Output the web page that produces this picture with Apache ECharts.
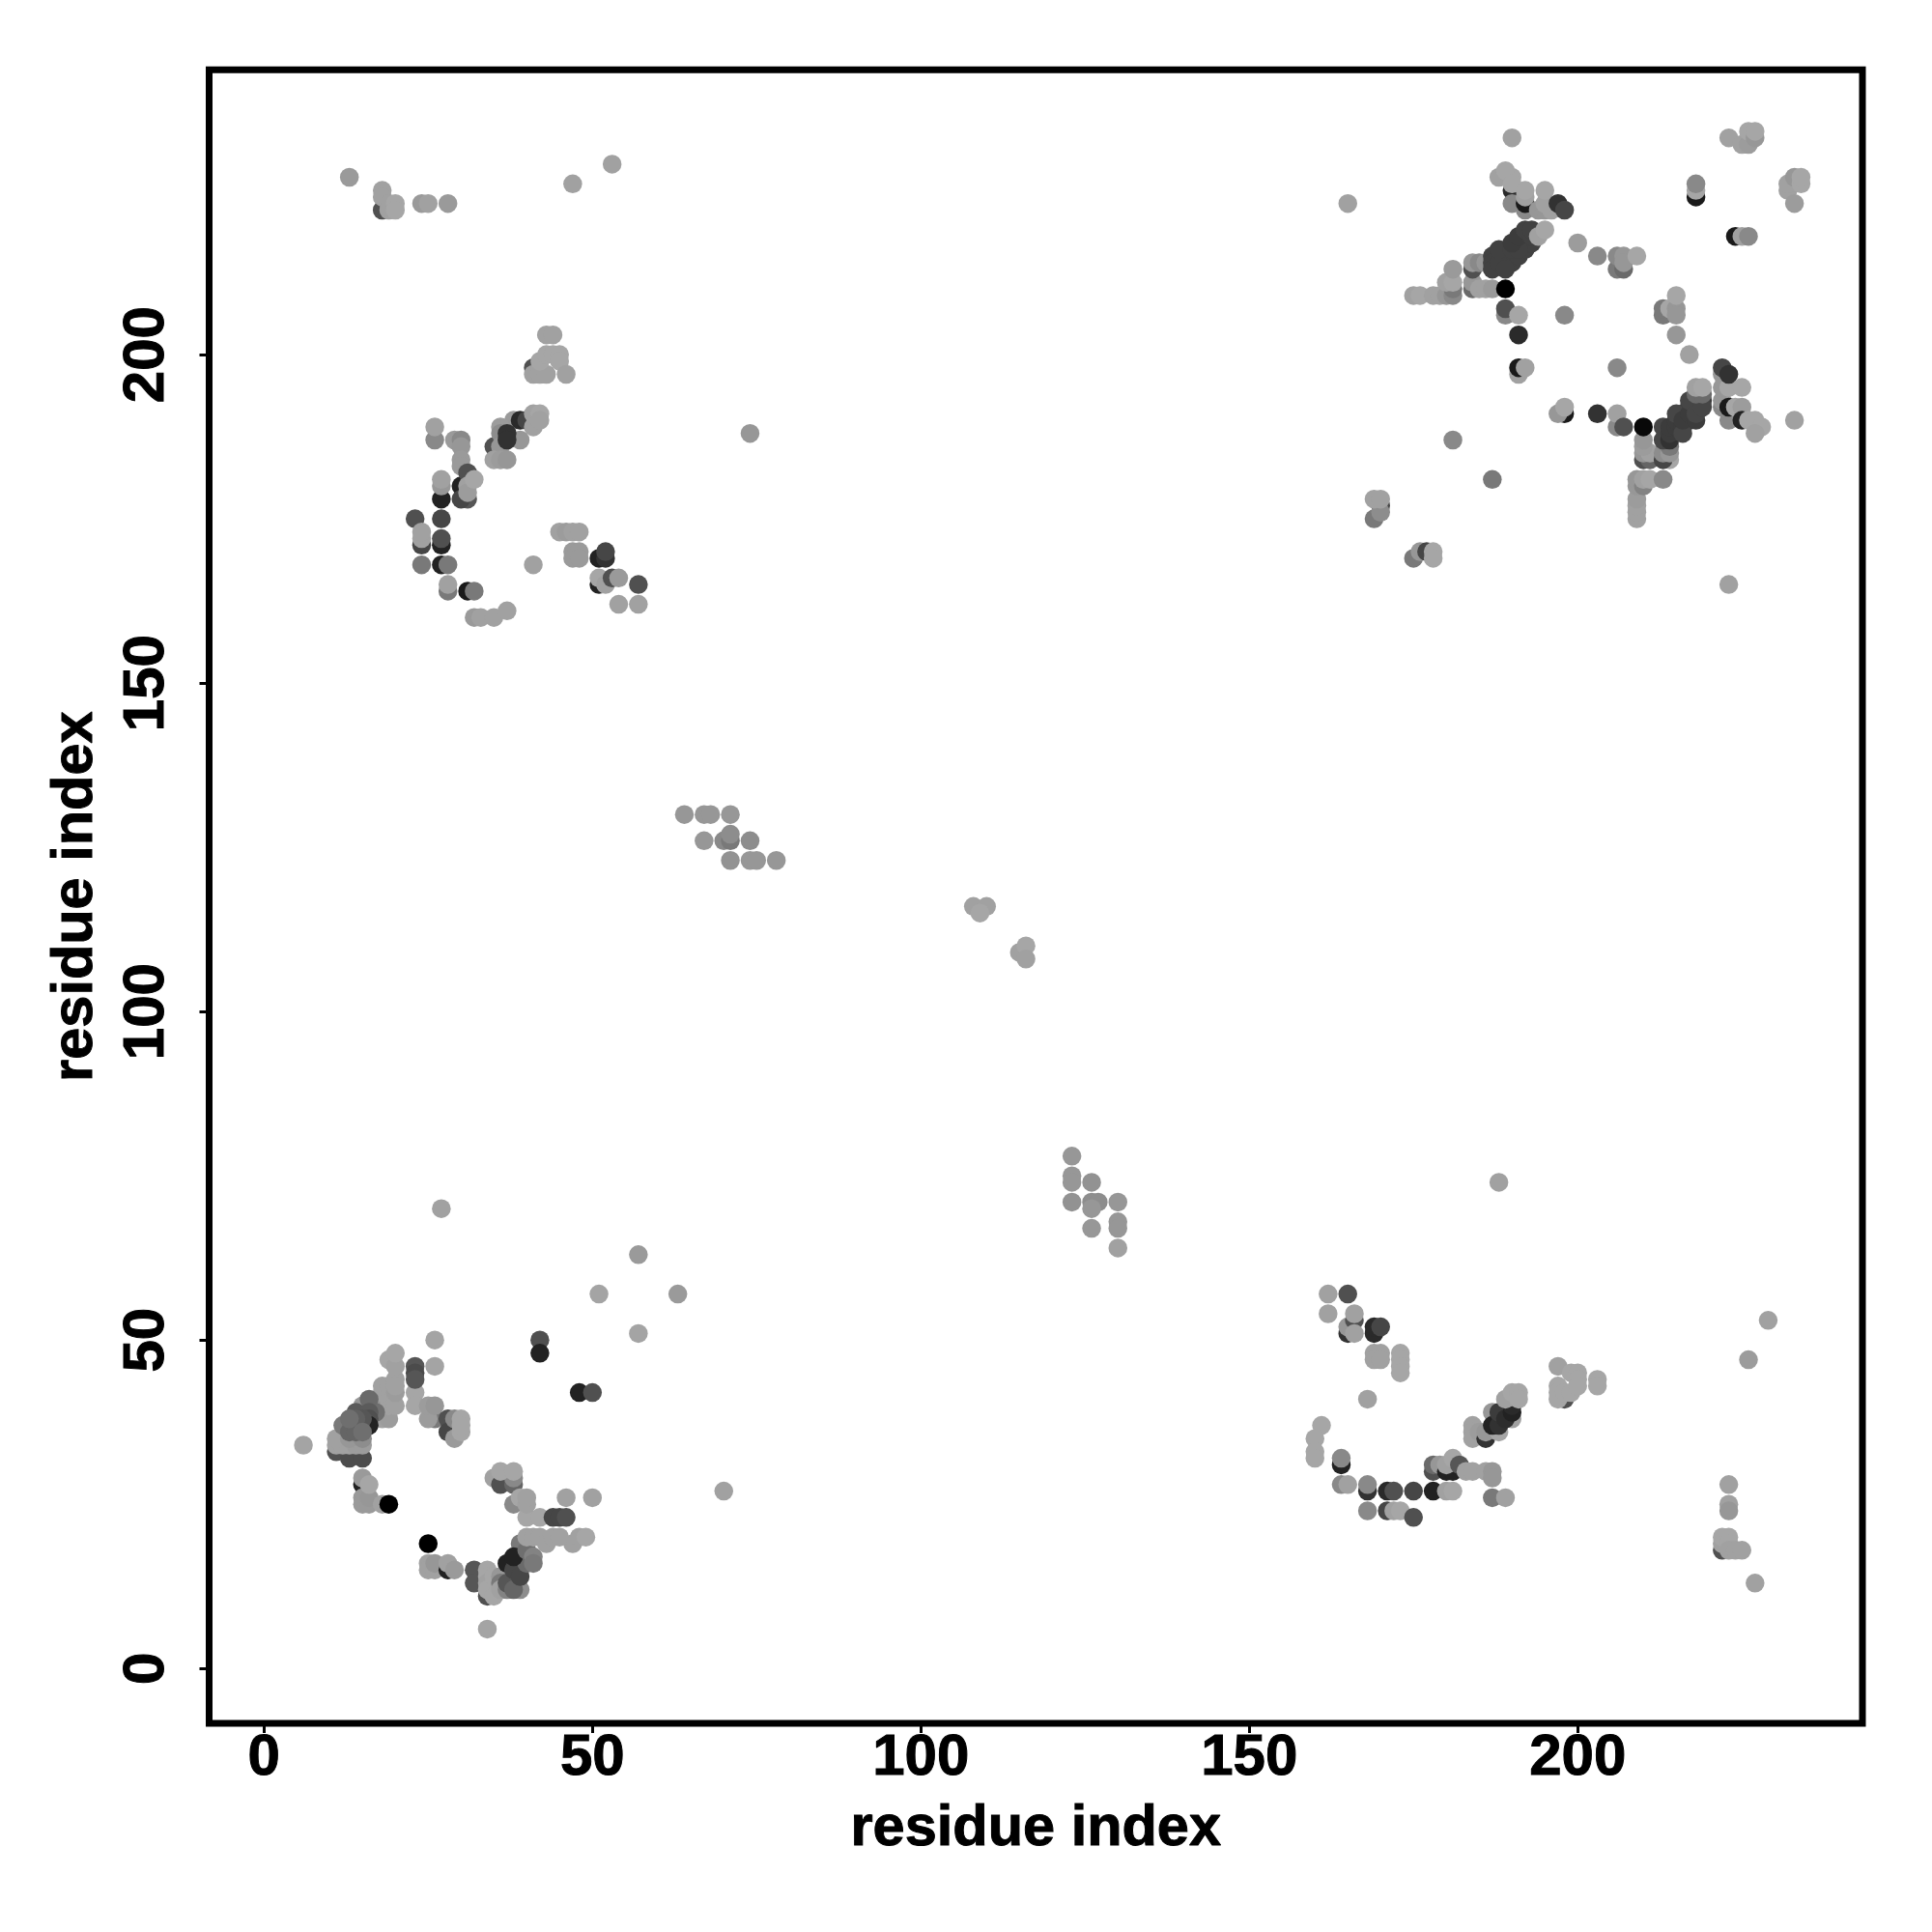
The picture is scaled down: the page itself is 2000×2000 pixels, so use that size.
<!DOCTYPE html>
<html>
<head>
<meta charset="utf-8">
<style>html,body{margin:0;padding:0;background:#fff}#c{width:2000px;height:2000px}</style>
<script src="https://cdn.jsdelivr.net/npm/echarts@6/dist/echarts.min.js"></script>
</head>
<body>
<div id="c"></div>
<script>
// Each contact: [residue x, residue y, grey level 0 (black) .. 165 (lightest)], in drawing order
const bottomLeft = [
[6,34,163],[26,50,163],[26,46,163],[42,50,80],[42,48,34],[48,42,34],[50,42,80],[51,57,163],[63,57,153],[57,51,163],[57,63,153],[34,6,163],
[46,26,160],[50,26,160],
[11,33,80],[13,32,76],[15,32,76],
[15,40,150],[11,34,160],[12,34,160],[13,34,160],[14,34,155],[15,34,155],[11,35,160],[13,35,150],[15,35,140],
[18,38,160],[19,38,155],[18,41,150],[19,40,160],[18,42,160],[17,39,110],
[12,37,120],[13,36,100],[14,36,100],[14,39,90],[16,41,105],[16,39,90],[16,38,80],[16,37,34],[15,38,85],[14,38,95],[13,38,110],[15,36,110],
[18,43,160],[19,43,160],[20,40,160],[20,42,155],[20,44,160],[20,43,160],[19,47,165],[20,46,160],[20,48,165],
[23,42,165],[23,40,165],[23,46,85],[23,45,75],[23,44,85],
[26,38,120],[25,38,155],[25,40,155],[26,40,150],
[28,38,80],[28,36,70],[29,38,136],[29,35,153],[30,38,165],[30,36,165],[30,37,165],
[15,28,34],[15,29,153],[15,26,153],[15,25,153],[16,25,153],[16,26,150],[16,28,165],[18,25,160],[19,25,0],
[25,16,160],[25,15,160],[26,15,160],[26,16,150],[28,15,34],[28,16,160],[29,15,153],[25,19,0],
[32,15,85],[32,13,85],[34,11,80],[34,15,165],[34,14,165],[34,13,160],[34,12,165],[35,11,165],[35,14,165],[36,14,150],[36,13,120],
[39,12,140],[36,12,160],[37,12,130],[37,13,85],[38,12,100],[37,16,34],[38,15,70],[39,14,70],[40,16,105],[39,19,120],[38,17,34],[40,18,110],[41,17,130],[41,16,120],
[40,20,160],[41,20,160],[42,20,160],[43,19,160],[44,20,160],[47,19,160],[45,20,160],[48,20,160],[49,20,165],
[40,23,165],[42,23,165],[44,23,70],[45,23,70],[46,23,80],
[35,29,160],[36,28,80],[38,28,100],[38,29,136],[36,30,165],[38,30,165],[38,25,136],[39,26,165],[40,25,160],[40,26,160]
];
const topLeft = [
[13,227,153],[18,222,80],[18,225,160],[18,224,160],[19,223,160],[19,222,160],[20,223,165],[20,222,165],[24,223,153],[25,223,160],[28,223,153],[47,226,160],[53,229,160],
[43,203,160],[44,203,160],[41,198,80],[41,197,160],[42,197,160],[43,197,160],[42,199,165],[43,200,165],[44,200,165],[45,200,165],[45,199,165],[46,197,160],
[38,190,153],[39,190,42],[40,190,70],[39,187,150],[41,189,160],[41,191,160],[42,191,165],[42,190,160],
[35,186,80],[36,189,155],[36,188,140],[36,186,150],[37,188,50],[37,187,50],[35,184,160],[36,184,155],[37,184,150],
[26,187,136],[26,189,160],[29,187,153],[30,187,136],[30,186,150],[30,184,153],[30,183,153],[30,180,34],[31,182,80],[31,178,85],[30,178,70],[31,180,160],[31,179,155],[32,181,165],
[27,178,34],[27,180,150],[27,181,160],[27,175,70],[27,171,34],[27,172,80],[23,175,80],[24,171,70],[24,172,160],[24,173,160],[24,168,120],[27,168,34],[28,168,120],
[28,164,120],[28,165,160],[31,164,26],[32,164,120],[32,160,153],[33,160,160],[35,160,160],[37,161,160],[41,168,160],
[45,173,160],[46,173,155],[47,173,160],[48,173,160],[47,170,153],[48,170,153],[47,169,153],[48,169,153],
[51,169,34],[52,169,50],[52,170,70],[51,165,34],[51,166,165],[52,165,160],[53,166,80],[54,166,153],[57,165,80],[54,162,160],[57,162,160]
];
const centre = [
[74,188,150],[64,130,150],[67,130,150],[68,130,150],[71,130,150],[67,126,150],[70,126,136],[71,126,120],[71,127,140],[74,126,140],[71,123,145],[74,123,150],[75,123,150],[78,123,150],
[108,116,160],[110,116,160],[109,115,165],[115,109,160],[116,110,165],[116,108,160],
[123,78,150],[123,75,150],[123,74,150],[123,71,145],[126,74,145],[126,71,140],[127,71,140],[126,70,150],[126,67,150],[130,71,150],[130,68,150],[130,67,150],[130,64,160],
[27,70,160],[70,27,160],[188,74,160]
];
const bottomRight = [
[162,57,160],[165,57,80],[162,54,160],[165,51,50],[165,52,150],[166,53,80],[166,54,160],[166,51,160],
[169,51,42],[169,52,42],[170,52,70],[169,48,160],[170,48,160],[169,47,160],[170,47,160],[173,48,165],[173,47,165],[173,46,165],[173,45,165],
[168,41,160],[161,37,165],[160,35,165],[160,33,165],[160,32,165],[164,31,34],[164,32,136],[164,28,136],[165,28,160],[168,27,50],[168,28,136],[168,24,136],
[171,27,42],[172,27,80],[175,27,70],[178,27,34],[180,27,160],[181,27,165],[171,24,70],[172,24,160],[173,24,165],[175,23,80],
[178,30,80],[178,31,105],[179,31,150],[180,30,34],[181,30,34],[180,31,160],[181,32,165],[182,31,85],[183,30,160],[184,30,160],[186,30,160],[187,30,150],[187,29,150],[187,26,120],[189,26,160],
[184,37,160],[184,36,160],[184,35,160],[185,36,155],[186,35,50],[186,36,150],[188,36,165],[187,39,150],[187,37,34],[188,37,50],[188,39,60],[190,38,160],[189,38,45],[190,39,34],[190,40,42],[189,41,160],[190,42,165],[191,42,165],[191,41,165],
[198,41,80],[197,46,160],[197,43,165],[197,42,165],[197,41,165],[198,42,165],[199,42,165],[199,45,165],[200,45,165],[200,44,165],[200,43,165],[203,44,165],[203,43,165],
[223,28,160],[223,25,160],[223,24,150],[222,18,80],[222,19,160],[222,20,165],[223,20,165],[223,19,165],[223,18,160],[224,18,160],[225,18,160],[227,13,160],[226,47,155],[229,53,160]
];
const topRight = [
[165,223,160],[190,233,160],[223,233,160],[225,232,160],[226,232,155],[226,234,165],[227,233,150],[227,234,165],
[218,224,26],[218,225,165],[218,226,136],[232,225,160],[232,226,160],[233,227,150],[233,223,155],[234,226,165],[234,227,165],
[224,218,26],[225,218,160],[226,218,136],[213,206,120],[213,207,120],[214,207,165],[215,207,150],[215,206,150],[215,209,165],[215,203,150],[217,200,160],
[206,198,136],[198,206,136],[203,215,136],[200,217,155],[206,213,120],[207,213,105],[206,215,136],[207,215,150],[207,214,150],[209,215,165],
[181,187,136],[187,181,120],[170,177,70],[169,175,120],[170,176,140],[169,178,160],[170,178,160],
[175,169,120],[176,170,150],[177,170,70],[178,170,165],[178,169,165],[223,165,160],[233,190,160],
[198,191,26],[197,191,150],[198,192,165],[203,191,50],[206,189,136],[206,191,160],[207,189,80],
[210,184,80],[211,184,100],[210,185,150],[211,185,160],[210,186,155],[210,187,150],[210,189,8],
[214,184,165],[213,184,70],[213,185,140],[214,185,150],[214,186,120],[213,187,70],[213,189,70],[214,187,50],[214,188,60],[214,189,60],
[215,189,60],[215,190,60],[216,189,60],[216,191,60],[217,190,60],[217,192,60],[218,192,60],[218,193,60],[219,193,60],
[215,191,70],[216,188,70],[216,190,60],[217,191,60],[218,190,60],[217,193,70],[218,191,70],[219,192,70],[218,194,105],[219,194,105],[218,195,160],[219,195,165],
[222,192,136],[222,193,150],[222,195,150],[222,197,150],[222,198,70],[223,195,165],[223,197,50],[225,195,165],[223,190,136],[223,192,26],[224,192,165],[225,192,155],
[225,190,34],[226,190,165],[227,190,165],[228,189,165],[227,188,160],
[209,175,160],[209,176,160],[209,177,160],[209,178,155],[209,180,150],[209,181,150],[210,180,130],[210,181,160],[211,181,165],[213,181,136],
[189,206,136],[189,207,80],[191,206,165],[191,203,42],[191,197,160],[191,198,26],[192,198,160],
[175,209,160],[176,209,165],[178,209,160],[179,209,160],[180,209,150],[181,209,136],[181,210,120],[180,211,160],[181,211,165],[181,213,153],
[184,210,105],[184,211,150],[185,210,160],[186,210,160],[187,210,153],[189,210,0],
[184,213,80],[184,214,150],[185,214,136],[186,214,150],
[187,215,65],[188,215,65],[189,214,65],[189,215,65],[190,214,65],[190,215,65],[191,215,65],[191,217,65],[192,216,65],[192,217,65],[192,218,65],[193,217,65],
[187,214,65],[187,213,65],[188,214,65],[189,213,65],[188,216,65],[190,216,65],[191,216,65],[190,217,60],[191,218,60],[192,219,65],[193,218,65],[193,219,65],[194,218,160],[195,219,165],
[188,227,160],[190,227,165],[189,228,165],[190,225,42],[190,226,165],[190,223,136],[192,222,136],[192,223,26],[192,224,160],[192,225,165],
[194,222,150],[195,222,150],[196,222,160],[195,223,160],[195,225,165],[197,223,50],[198,222,70]
];
const tickValues = [0, 50, 100, 150, 200];
const axisTitle = 'residue index';

const points = [...bottomLeft, ...topLeft, ...centre, ...bottomRight, ...topRight];
const font = '"Liberation Sans", Arial, sans-serif';

function axis(extra, label) {
  return Object.assign({
    type: 'value', min: -8.35, max: 243.35,
    name: axisTitle, nameLocation: 'middle',
    nameTextStyle: {fontFamily: font, fontWeight: 'bold', fontSize: 59.5, color: '#000', textBorderColor: '#000', textBorderWidth: 1},
    splitLine: {show: false},
    axisLine: {show: false, onZero: false},
    axisTick: {show: true, length: 10, customValues: tickValues, lineStyle: {color: '#000', width: 3}},
    axisLabel: Object.assign({
      show: true, customValues: tickValues,
      fontFamily: font, fontWeight: 'bold', fontSize: 60, color: '#000',
      textBorderColor: '#000', textBorderWidth: 1,
      hideOverlap: false
    }, label)
  }, extra);
}

const chart = echarts.init(document.getElementById('c'), null, {renderer: 'canvas'});
chart.setOption({
  animation: false,
  backgroundColor: '#fff',
  grid: {show: true, left: 216.5, right: 72, top: 72.3, bottom: 216, borderColor: '#000', borderWidth: 7, backgroundColor: 'transparent'},
  xAxis: axis({nameGap: 80}, {margin: 6}),
  yAxis: axis({nameGap: 108}, {rotate: 90, margin: 34}),
  visualMap: {show: false, type: 'continuous', dimension: 2, min: 0, max: 165, inRange: {color: ['#000000', '#a6a6a6']}, seriesIndex: 0},
  series: [{
    type: 'scatter', data: points, symbol: 'circle', symbolSize: 19.5,
    itemStyle: {opacity: 1, borderWidth: 0}, progressive: 0, large: false, silent: true, clip: false
  }]
});
</script>
</body>
</html>
